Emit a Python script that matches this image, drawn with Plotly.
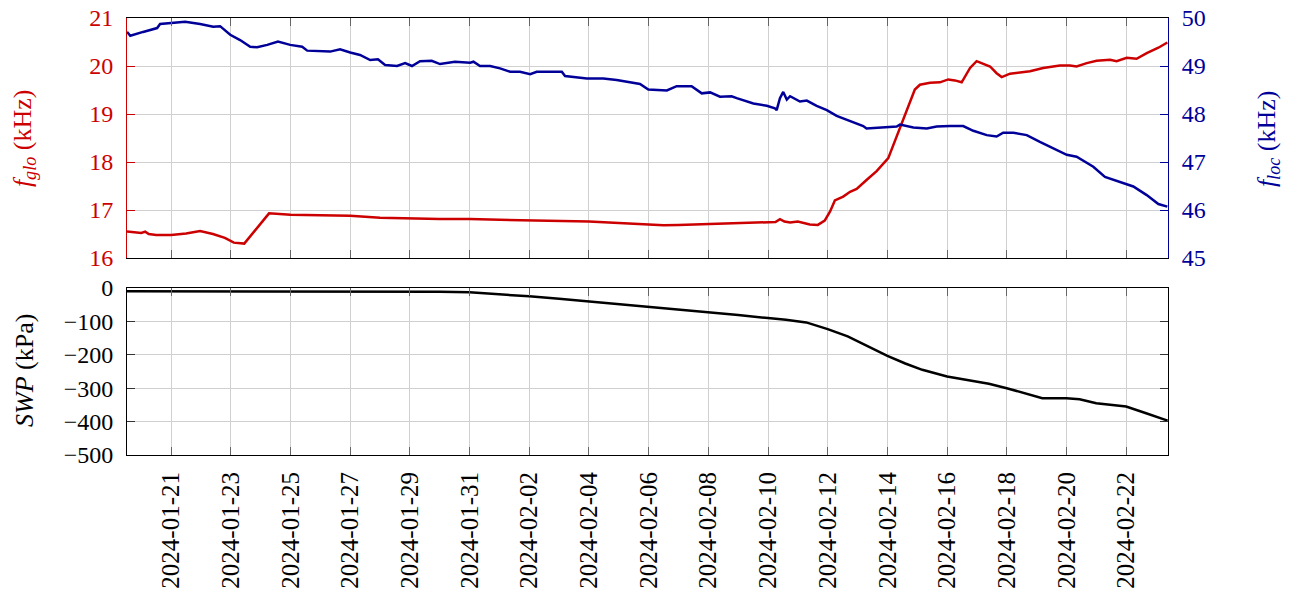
import pandas as pd
import plotly.graph_objects as go

# ---------------- data (x = days after 2024-01-21 00:00) ----------------
DAY0 = "2024-01-21"

glo_days = [-1.48, -1.2, -1.0, -0.87, -0.75, -0.5, 0.0, 0.5, 0.97, 1.4, 1.8, 2.1, 2.45,
            3.28, 4.0, 5.0, 6.0, 7.0, 8.0, 9.0, 10.0, 11.0, 12.0, 13.0, 14.0, 15.0, 16.0,
            16.5, 17.0, 18.0, 19.0, 20.0, 20.25, 20.4, 20.55, 20.74, 21.0, 21.4, 21.67,
            21.9, 22.08, 22.24, 22.52, 22.75, 22.97, 23.31, 23.64, 24.03, 24.31, 24.65,
            24.92, 25.09, 25.43, 25.76, 26.04, 26.26, 26.49, 26.77, 26.99, 27.44, 27.66,
            27.83, 28.11, 28.78, 29.22, 29.78, 30.12, 30.34, 30.68, 31.01, 31.46, 31.68,
            32.02, 32.35, 32.69, 33.08, 33.38]
glo_khz = [16.55, 16.53, 16.52, 16.55, 16.50, 16.48, 16.48, 16.51, 16.56, 16.50, 16.42,
           16.32, 16.30, 16.93, 16.90, 16.89, 16.88, 16.84, 16.82, 16.81, 16.81, 16.80,
           16.78, 16.77, 16.76, 16.73, 16.70, 16.68, 16.69, 16.71, 16.72, 16.74, 16.75,
           16.81, 16.76, 16.74, 16.76, 16.70, 16.69, 16.78, 16.97, 17.20, 17.28, 17.38,
           17.44, 17.63, 17.81, 18.08, 18.53, 19.09, 19.51, 19.61, 19.65, 19.66, 19.72,
           19.70, 19.66, 19.96, 20.10, 19.99, 19.85, 19.77, 19.84, 19.89, 19.96, 20.01,
           20.01, 19.99, 20.06, 20.11, 20.13, 20.10, 20.17, 20.15, 20.27, 20.38, 20.49]

loc_days = [-1.48, -1.37, -0.94, -0.47, -0.37, 0.0, 0.47, 0.97, 1.41, 1.64, 1.98, 2.31,
            2.65, 2.88, 3.22, 3.58, 3.99, 4.39, 4.56, 5.33, 5.66, 6.0, 6.33, 6.67, 6.93,
            7.17, 7.57, 7.84, 8.07, 8.34, 8.73, 9.01, 9.51, 10.02, 10.13, 10.35, 10.69,
            11.02, 11.36, 11.69, 12.03, 12.25, 13.09, 13.20, 13.93, 14.48, 14.93, 15.71,
            15.99, 16.61, 16.94, 17.44, 17.78, 18.06, 18.39, 18.78, 18.95, 19.51, 19.96,
            20.23, 20.29, 20.40, 20.51, 20.63, 20.74, 21.07, 21.30, 21.63, 21.97, 22.30,
            22.75, 23.19, 23.30, 23.86, 24.31, 24.42, 24.87, 25.32, 25.65, 26.10, 26.54,
            26.88, 27.33, 27.66, 27.88, 28.22, 28.67, 29.11, 29.56, 30.01, 30.34, 30.90,
            31.29, 31.79, 32.24, 32.69, 33.08, 33.38]
loc_khz = [49.71, 49.63, 49.71, 49.79, 49.875, 49.90, 49.92, 49.875, 49.82, 49.83, 49.65,
           49.54, 49.40, 49.39, 49.44, 49.51, 49.44, 49.40, 49.32, 49.30, 49.35, 49.28,
           49.23, 49.125, 49.14, 49.02, 49.00, 49.06, 49.00, 49.10, 49.11, 49.04, 49.09,
           49.07, 49.09, 49.00, 49.00, 48.95, 48.88, 48.88, 48.83, 48.88, 48.88, 48.79,
           48.74, 48.74, 48.71, 48.625, 48.51, 48.49, 48.58, 48.58, 48.43, 48.45, 48.36,
           48.37, 48.33, 48.22, 48.17, 48.12, 48.08, 48.33, 48.46, 48.30, 48.37, 48.26,
           48.28, 48.17, 48.08, 47.96, 47.85, 47.75, 47.70, 47.72, 47.74, 47.78, 47.72,
           47.70, 47.74, 47.75, 47.75, 47.65, 47.56, 47.53, 47.61, 47.61, 47.56, 47.42,
           47.28, 47.15, 47.11, 46.90, 46.69, 46.59, 46.49, 46.31, 46.125, 46.07]

swp_days = [-1.48, 8.17, 9.0, 10.0, 11.0, 12.0, 13.0, 14.0, 15.0, 16.0, 17.0, 18.0, 19.0,
            20.0, 20.6, 21.28, 22.0, 22.67, 23.3, 24.0, 24.6, 25.17, 26.0, 26.83, 27.4,
            28.0, 28.6, 29.19, 30.0, 30.44, 31.0, 31.5, 32.0, 32.67, 33.39]
swp_kpa = [-10, -10, -11, -13, -18, -25, -32, -40, -47, -55, -64, -72, -81, -90, -95,
           -103, -123, -145, -172, -203, -226, -245, -265, -277, -287, -300, -315, -330,
           -330, -333, -345, -350, -355, -375, -397]

tick_start = "2024-01-21"
x_range = ["2024-01-19 12:30", "2024-02-23 09:40"]

# ---------------- figure ----------------
RED = "#cc0000"
BLUE = "#000099"
FONT = "Liberation Serif"
GRID = "#d0d0d0"


def to_time(days):
    return pd.Timestamp(DAY0) + pd.to_timedelta(days, unit="D")


fig = go.Figure()
fig.add_trace(go.Scatter(x=to_time(glo_days), y=glo_khz, mode="lines",
                         line=dict(color=RED, width=2.5), xaxis="x", yaxis="y",
                         showlegend=False))
fig.add_trace(go.Scatter(x=to_time(loc_days), y=loc_khz, mode="lines",
                         line=dict(color=BLUE, width=2.5), xaxis="x", yaxis="y2",
                         showlegend=False))
fig.add_trace(go.Scatter(x=to_time(swp_days), y=swp_kpa, mode="lines",
                         line=dict(color="black", width=2.5), xaxis="x2", yaxis="y3",
                         showlegend=False))

xcommon = dict(range=x_range, type="date", tick0=tick_start, dtick=2 * 86400000,
               showgrid=True, gridcolor=GRID, gridwidth=1, zeroline=False,
               showline=True, linecolor="black", linewidth=1, mirror="ticks",
               ticks="inside", ticklen=8, tickcolor="#666666")

top_dom = [0.4508, 1.0]
bot_dom = [0.0, 0.3822]

fig.update_layout(
    width=1291, height=593,
    margin=dict(l=127, r=123, t=18, b=138, autoexpand=False),
    paper_bgcolor="white", plot_bgcolor="white",
    font=dict(family=FONT, size=22, color="black"),
    xaxis=dict(**xcommon, domain=[0, 1], anchor="y", showticklabels=False),
    xaxis2=dict(**xcommon, domain=[0, 1], anchor="y3", tickangle=-90,
                tickformat="%Y-%m-%d", tickfont=dict(family=FONT, size=25, color="black"),
                ticklabelstandoff=6),
    yaxis=dict(domain=top_dom, anchor="x", range=[16, 21], dtick=1,
               showgrid=True, gridcolor=GRID, zeroline=False,
               showline=True, linecolor=RED, linewidth=1, mirror=False,
               ticks="inside", ticklen=8, tickcolor=RED, ticklabeloverflow="allow",
               tickfont=dict(family=FONT, size=24, color=RED), ticklabelstandoff=8),
    yaxis2=dict(overlaying="y", anchor="x", side="right", range=[45, 50], dtick=1,
                showgrid=False, zeroline=False,
                showline=True, linecolor=BLUE, linewidth=1, ticklabeloverflow="allow",
                ticks="inside", ticklen=8, tickcolor=BLUE,
                tickfont=dict(family=FONT, size=24, color=BLUE), ticklabelstandoff=8),
    yaxis3=dict(domain=bot_dom, anchor="x2", range=[-500, 0], dtick=100,
                showgrid=True, gridcolor=GRID, zeroline=False,
                showline=True, linecolor="black", linewidth=1, mirror="ticks",
                ticks="inside", ticklen=8, tickcolor="#333333", ticklabeloverflow="allow",
                tickfont=dict(family=FONT, size=24, color="black"), ticklabelstandoff=8),
    annotations=[
        dict(text="<i>f</i><sub><i>glo</i></sub> (kHz)", xref="paper", yref="paper",
             x=-0.099, y=0.725, xanchor="center", yanchor="middle", textangle=-90,
             showarrow=False, font=dict(family=FONT, size=26, color=RED)),
        dict(text="<i>f</i><sub><i>loc</i></sub> (kHz)", xref="paper", yref="paper",
             x=1.096, y=0.725, xanchor="center", yanchor="middle", textangle=-90,
             showarrow=False, font=dict(family=FONT, size=26, color=BLUE)),
        dict(text="<i>SWP</i> (kPa)", xref="paper", yref="paper",
             x=-0.099, y=0.1945, xanchor="center", yanchor="middle", textangle=-90,
             showarrow=False, font=dict(family=FONT, size=26, color="black")),
    ],
)

# remove the browser's default 8px body margin so the figure fills the window
fig.write_html("out.html", config={"displayModeBar": False},
               post_script="document.body.style.margin='0';")
